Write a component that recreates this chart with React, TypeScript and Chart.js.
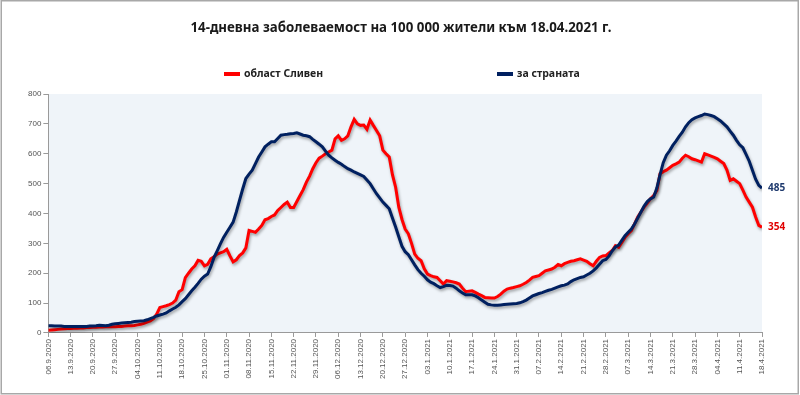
import React, { useEffect, useRef } from 'react';
import { Chart, registerables } from 'chart.js';

Chart.register(...registerables);

const chartTitle = '14-дневна заболеваемост на 100 000 жители към 18.04.2021 г.';
const seriesNames = ['област Сливен', 'за страната'];
const seriesColors = ['#ff0000', '#002060'];
const endLabelColors = ['#e00000', '#1f3a6e'];

// weekly tick labels (every 7th day)
const tickLabels = [
  '06.9.2020', '13.9.2020', '20.9.2020', '27.9.2020', '04.10.2020', '11.10.2020', '18.10.2020',
  '25.10.2020', '01.11.2020', '08.11.2020', '15.11.2020', '22.11.2020', '29.11.2020', '06.12.2020',
  '13.12.2020', '20.12.2020', '27.12.2020', '03.1.2021', '10.1.2021', '17.1.2021', '24.1.2021',
  '31.1.2021', '07.2.2021', '14.2.2021', '21.2.2021', '28.2.2021', '07.3.2021', '14.3.2021',
  '21.3.2021', '28.3.2021', '04.4.2021', '11.4.2021', '18.4.2021',
];

// daily values, 06.09.2020 .. 18.04.2021
const sliven = [
  9, 10, 11, 12, 13, 14, 15,
  15, 16, 16, 17, 17, 18, 18,
  19, 19, 20, 20, 21, 21, 21,
  21, 22, 22, 23, 24, 24, 25,
  27, 29, 32, 36, 40, 48, 63,
  85, 88, 91, 95, 100, 110, 138,
  145, 185, 200, 214, 225, 243, 240,
  225, 230, 248, 255, 264, 268, 272,
  280, 258, 238, 245, 259, 268, 285,
  343, 340, 337, 348, 360, 379, 383,
  390, 395, 410, 420, 430, 438, 420,
  420, 440, 460, 480, 505, 525, 550,
  570, 585, 592, 600, 606, 612, 650,
  660, 645, 650, 660, 690, 715, 700,
  695, 696, 682, 713, 695, 678, 660,
  612, 600, 589, 530, 488, 421, 380,
  348, 332, 300, 264, 250, 242, 215,
  197, 192, 188, 186, 175, 164, 175,
  173, 171, 168, 164, 150, 138, 140,
  141, 136, 130, 125, 119, 118, 117,
  117, 122, 130, 140, 147, 150, 152,
  155, 158, 163, 169, 177, 186, 189,
  192, 200, 208, 211, 214, 220, 229,
  225, 232, 236, 240, 242, 245, 248,
  244, 240, 232, 225, 240, 253, 258,
  259, 268, 276, 292, 287, 303, 320,
  332, 343, 365, 388, 405, 421, 435,
  449, 460, 477, 533, 540, 545, 553,
  561, 566, 572, 585, 595, 590, 583,
  580, 576, 572, 600, 596, 592, 588,
  583, 575, 567, 545, 511, 516, 508,
  500, 478, 455, 438, 421, 388, 360,
  354,
];

const national = [
  24, 24, 23, 23, 23, 22, 22,
  22, 22, 22, 22, 22, 22, 23,
  23, 24, 26, 25, 24, 26, 29,
  31, 32, 33, 34, 35, 36, 38,
  39, 40, 41, 44, 48, 52, 57,
  60, 63, 67, 74, 80, 86, 94,
  105, 115, 128, 141, 153, 166, 180,
  190, 197, 222, 253, 275, 298, 320,
  337, 354, 371, 405, 444, 482, 517,
  532, 545, 567, 589, 606, 623, 632,
  640, 640, 651, 662, 664, 665, 667,
  668, 670, 666, 662, 660, 657, 648,
  640, 632, 623, 609, 595, 586, 578,
  571, 565, 557, 550, 545, 539, 534,
  529, 524, 512, 500, 483, 466, 452,
  438, 427, 416, 385, 355, 322, 290,
  272, 262, 245, 228, 212, 200, 190,
  178, 170, 165, 158, 152, 155, 160,
  159, 157, 150, 141, 134, 128, 128,
  128, 124, 118, 110, 103, 96, 94,
  93, 93, 94, 95, 96, 97, 98,
  99, 101, 105, 110, 117, 124, 128,
  132, 135, 139, 143, 146, 150, 154,
  158, 160, 164, 172, 178, 182, 186,
  188, 194, 200, 208, 218, 230, 242,
  246, 258, 275, 288, 294, 310, 326,
  337, 348, 365, 385, 405, 425, 440,
  449, 455, 485, 530, 570, 595, 610,
  628, 642, 658, 672, 690, 704, 714,
  720, 724, 728, 733, 731, 728, 724,
  717, 710, 700, 690, 676, 662, 645,
  630, 620, 598, 575, 545, 515, 494,
  485,
];

const yTicks = { min: 0, max: 800, step: 100 };

const framePlugin = {
  id: 'frame',
  beforeDraw(chart: any) {
    const { ctx, chartArea } = chart;
    ctx.save();
    ctx.fillStyle = '#ffffff';
    ctx.fillRect(0, 0, chart.width, chart.height);
    ctx.fillStyle = '#eff4f9';
    ctx.fillRect(chartArea.left, chartArea.top, chartArea.right - chartArea.left, chartArea.bottom - chartArea.top);
    ctx.strokeStyle = '#a8a8a8';
    ctx.lineWidth = 1.5;
    ctx.strokeRect(1.25, 0.75, chart.width - 3, chart.height - 2);
    ctx.restore();
  },
};

const shadowPlugin = {
  id: 'lineShadow',
  beforeDatasetDraw(chart: any) {
    const ctx = chart.ctx;
    ctx.save();
    ctx.shadowColor = 'rgba(0,0,0,0.35)';
    ctx.shadowBlur = 3;
    ctx.shadowOffsetX = 1;
    ctx.shadowOffsetY = 2;
  },
  afterDatasetDraw(chart: any) {
    chart.ctx.restore();
  },
};

const endLabelPlugin = {
  id: 'endLabels',
  afterDatasetsDraw(chart: any) {
    const ctx = chart.ctx;
    chart.data.datasets.forEach((ds: any, i: number) => {
      const meta = chart.getDatasetMeta(i);
      const pts = meta.data;
      const last = pts[pts.length - 1];
      const val = ds.data[ds.data.length - 1].y;
      ctx.save();
      ctx.font = 'bold 10px "Noto Sans"';
      ctx.fillStyle = endLabelColors[i];
      ctx.textAlign = 'left';
      ctx.textBaseline = 'middle';
      ctx.fillText(String(val), last.x + 6, last.y);
      ctx.restore();
    });
  },
};

const headerPlugin = {
  id: 'header',
  afterDraw(chart: any) {
    const ctx = chart.ctx;
    ctx.save();
    ctx.font = 'bold 13.3px "Noto Sans"';
    ctx.fillStyle = '#1a1a1a';
    ctx.textAlign = 'center';
    ctx.textBaseline = 'middle';
    ctx.fillText(chartTitle, 401, 28);

    const starts = [224, 497];
    const y = 74;
    ctx.font = 'bold 10.5px "Noto Sans"';
    ctx.textAlign = 'left';
    seriesNames.forEach((name, i) => {
      ctx.fillStyle = seriesColors[i];
      ctx.fillRect(starts[i], y - 2, 16, 4);
      ctx.fillStyle = '#222222';
      ctx.fillText(name, starts[i] + 20, y);
    });
    ctx.restore();
  },
};

export default function App() {
  const ref = useRef<HTMLCanvasElement | null>(null);

  useEffect(() => {
    document.body.style.margin = '0';
    if (!ref.current) return;
    const chart = new Chart(ref.current, {
      type: 'line',
      data: {
        datasets: [
          {
            label: seriesNames[0],
            data: sliven.map((v, i) => ({ x: i, y: v })),
            borderColor: seriesColors[0],
            backgroundColor: seriesColors[0],
            borderWidth: 3,
            pointRadius: 0,
            tension: 0,
            order: 2,
          },
          {
            label: seriesNames[1],
            data: national.map((v, i) => ({ x: i, y: v })),
            borderColor: seriesColors[1],
            backgroundColor: seriesColors[1],
            borderWidth: 3,
            pointRadius: 0,
            tension: 0,
            order: 1,
          },
        ],
      },
      options: {
        animation: false,
        responsive: false,
        devicePixelRatio: 1,
        layout: { padding: { left: 26, right: 38, top: 94, bottom: 14 } },
        plugins: {
          legend: { display: false },
          tooltip: { enabled: false },
          title: { display: false },
        },
        scales: {
          x: {
            type: 'linear',
            min: 0,
            max: sliven.length - 1,
            grid: { drawOnChartArea: false, drawTicks: true, tickLength: 4, color: '#9a9a9a' },
            border: { color: '#9a9a9a' },
            ticks: {
              stepSize: 7,
              autoSkip: false,
              maxRotation: 90,
              minRotation: 90,
              padding: 2,
              color: '#555555',
              font: { family: '"Liberation Sans"', size: 8 },
              callback: (v: any) => tickLabels[Math.round(Number(v) / 7)] ?? '',
            },
          },
          y: {
            min: yTicks.min,
            max: yTicks.max,
            grid: { drawOnChartArea: false, drawTicks: true, tickLength: 5, color: '#9a9a9a' },
            border: { color: '#9a9a9a' },
            ticks: {
              stepSize: yTicks.step,
              padding: 2,
              color: '#555555',
              font: { family: '"Liberation Sans"', size: 8 },
            },
          },
        },
      },
      plugins: [framePlugin, shadowPlugin, endLabelPlugin, headerPlugin],
    } as any);
    return () => chart.destroy();
  }, []);

  return (
    <div style={{ width: 800, height: 395 }}>
      <canvas ref={ref} width={800} height={395} style={{ display: 'block' }} />
    </div>
  );
}
